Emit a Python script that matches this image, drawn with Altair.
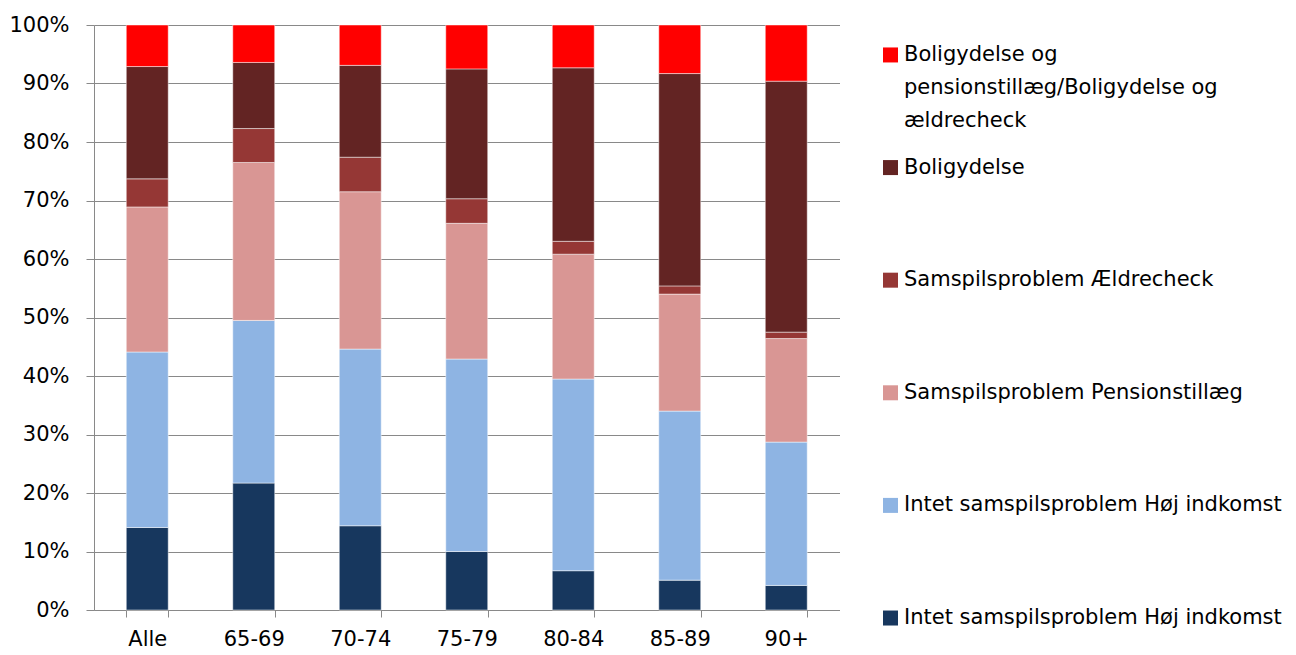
import altair as alt
import pandas as pd

categories = ["Alle", "65-69", "70-74", "75-79", "80-84", "85-89", "90+"]

# series values (percent of each age group), bottom to top
intet_lav = [14.1, 21.7, 14.4, 10.0, 6.7, 5.1, 4.2]
intet_hoj = [30.0, 27.8, 30.2, 32.9, 32.7, 28.9, 24.5]
pensionstillaeg = [24.8, 27.0, 26.9, 23.2, 21.3, 20.0, 17.7]
aeldrecheck = [4.8, 5.8, 5.9, 4.2, 2.2, 1.4, 1.1]
boligydelse = [19.2, 11.3, 15.7, 22.2, 29.6, 36.3, 42.9]
bolig_og = [7.1, 6.4, 6.9, 7.5, 7.3, 8.3, 9.6]

# series keys (bottom to top), legend labels and colours
series_keys = ["s1", "s2", "s3", "s4", "s5", "s6"]
series_labels = [
    "Intet samspilsproblem Høj indkomst",
    "Intet samspilsproblem Høj indkomst",
    "Samspilsproblem Pensionstillæg",
    "Samspilsproblem Ældrecheck",
    "Boligydelse",
    "Boligydelse og\npensionstillæg/Boligydelse og\nældrecheck",
]
series_colors = ["#17375E", "#8EB4E3", "#D99694", "#953735", "#632423", "#FF0000"]
series_values = [intet_lav, intet_hoj, pensionstillaeg, aeldrecheck, boligydelse, bolig_og]

y_ticks = [0, 0.1, 0.2, 0.3, 0.4, 0.5, 0.6, 0.7, 0.8, 0.9, 1.0]

FONT = "DejaVu Sans"
FS = 21
GRAY = "#898989"

rows = []
for si, (key, vals) in enumerate(zip(series_keys, series_values)):
    for cat, v in zip(categories, vals):
        rows.append({"cat": cat, "series": key, "value": v, "order": si})
df = pd.DataFrame(rows)

color_scale = alt.Scale(domain=series_keys, range=series_colors)

bars = alt.Chart(df).mark_bar(
    stroke="#ffffff", strokeWidth=0.8, strokeOpacity=0.6
).encode(
    x=alt.X(
        "cat:N",
        sort=categories,
        title=None,
        scale=alt.Scale(paddingInner=0.606, paddingOuter=0.303),
        axis=alt.Axis(
            labelAngle=0,
            tickBand="extent",
            tickSize=7,
            tickColor=GRAY,
            domainColor=GRAY,
            labelPadding=11,
            labelFontSize=FS,
            labelFont=FONT,
            labelColor="#000000",
            grid=False,
        ),
    ),
    y=alt.Y(
        "value:Q",
        stack="normalize",
        title=None,
        scale=alt.Scale(domain=[0, 1], nice=False),
        axis=alt.Axis(
            values=y_ticks,
            format=".0%",
            tickSize=8,
            tickColor=GRAY,
            domainColor=GRAY,
            gridColor=GRAY,
            gridWidth=1.2,
            labelPadding=17,
            labelFontSize=FS,
            labelFont=FONT,
            labelColor="#000000",
            minExtent=85,
            maxExtent=85,
        ),
    ),
    color=alt.Color("series:N", scale=color_scale, legend=None),
    order=alt.Order("order:Q", sort="ascending"),
).properties(width=745.5, height=585)

# manual legend (top to bottom)
leg_keys = list(reversed(series_keys))
leg_labels = list(reversed(series_labels))
leg_df = pd.DataFrame({"idx": list(range(6)), "key": leg_keys, "label": leg_labels})

leg_base = alt.Chart(leg_df).encode(
    y=alt.Y("idx:Q", scale=alt.Scale(domain=[-0.266, 5.062], reverse=True), axis=None)
)
leg_sq = leg_base.mark_square(size=225, opacity=1).encode(
    x=alt.value(14.5),
    color=alt.Color("key:N", scale=color_scale, legend=None),
)
leg_tx = leg_base.mark_text(
    align="left", baseline="top", dy=-11, fontSize=FS, font=FONT,
    lineHeight=33, lineBreak="\n", color="#000000",
).encode(x=alt.value(28), text="label:N")

legend = alt.layer(leg_sq, leg_tx).properties(width=400, height=600)

chart = alt.hconcat(bars, legend, spacing=36).configure_view(
    stroke=None
).properties(
    padding={"left": 0, "top": 6, "right": 0, "bottom": 0}
)

chart.save("out.html", embed_options={"renderer": "svg", "actions": False})
